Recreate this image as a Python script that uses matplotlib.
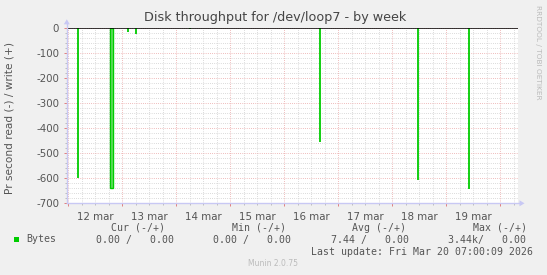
import matplotlib
matplotlib.use("Agg")
import matplotlib.pyplot as plt
from matplotlib.patches import Rectangle
import numpy as np

# ---- data ----
day_labels = ["12 mar", "13 mar", "14 mar", "15 mar", "16 mar", "17 mar", "18 mar", "19 mar"]
# spike positions in days since 12 mar 00:00 and read values (negative = read)
spike_day = [0.194, 0.805, 1.11, 1.258, 2.257, 4.66, 6.48, 7.42]
spike_read = [-597, -638, -13, -24, -3, -455, -605, -643]
yticks = [0, -100, -200, -300, -400, -500, -600, -700]

legend_cols = ["Cur (-/+)", "Min (-/+)", "Avg (-/+)", "Max (-/+)"]
legend_vals = ["0.00 /   0.00", "0.00 /   0.00", "7.44 /   0.00", "3.44k/   0.00"]
series_name = "Bytes"
title = "Disk throughput for /dev/loop7 - by week"
ylabel = "Pr second read (-) / write (+)"
last_update = "Last update: Fri Mar 20 07:00:09 2026"

W, H = 547, 275
fig = plt.figure(figsize=(W / 100, H / 100), dpi=100, facecolor="#F0F0F0")

px_left, px_right, px_top, px_bot = 66.8, 517.5, 28.3, 203.3
ax = fig.add_axes([px_left / W, 1 - px_bot / H, (px_right - px_left) / W, (px_bot - px_top) / H])
ax.set_facecolor("white")
ax.set_xlim(-0.022, 8.316)
ax.set_ylim(-700, 0)

dot = (0, (0.72, 1.44))
minor_c = "#D0D0D0"
major_c = "#EBA8A8"
# grid
for v in np.arange(-700, 1, 20):
    if v % 100 != 0:
        ax.axhline(v, color=minor_c, lw=0.72, ls=dot, zorder=1)
for v in yticks:
    ax.axhline(v, color=major_c, lw=0.72, ls=dot, zorder=1.1)
for d in np.arange(0, 8.5, 0.25):
    if abs(d - round(d)) > 1e-6:
        ax.axvline(d, color=minor_c, lw=0.72, ls=dot, zorder=1)
for d in range(0, 9):
    ax.axvline(d, color=major_c, lw=0.72, ls=dot, zorder=1.1)

# data
ax.vlines(spike_day, spike_read, 0, color="#00CC00", lw=1.3, zorder=3)
ax.bar([spike_day[1]], [spike_read[1]], width=0.06, color="#66DD66",
       edgecolor="#00CC00", lw=1.0, zorder=3)
ax.axhline(0, color="black", lw=1.1, zorder=4)

# axes styling
for s in ax.spines.values():
    s.set_visible(False)
ax.set_yticks(yticks)
ax.set_yticklabels([str(v) for v in yticks], fontsize=7.4, color="#555555")
ax.set_xticks(range(0, 9))
ax.set_xticklabels([""] * 9)
ax.set_xticks(np.arange(0, 8.4, 0.25), minor=True)
ax.set_yticks(np.arange(-700, 1, 20), minor=True)
ax.tick_params(axis="both", which="major", length=2.5, width=0.7, color="#E08080", pad=3)
ax.tick_params(axis="both", which="minor", length=1.5, width=0.7, color="#BBBBBB")
for i, lab in enumerate(day_labels):
    ax.text(i + 0.5, -0.05, lab, transform=ax.get_xaxis_transform(), ha="center", va="top",
            fontsize=7.4, color="#555555")

# axis lines with arrows (figure overlay)
ov = fig.add_axes([0, 0, 1, 1], facecolor="none")
ov.set_xlim(0, W)
ov.set_ylim(H, 0)
ov.axis("off")
axc = "#C8C8F4"
ov.plot([px_left, px_right + 2], [px_bot, px_bot], color=axc, lw=1.0)
ov.plot([px_left, px_left], [px_bot, px_top - 4], color=axc, lw=1.0)
ov.add_patch(plt.Polygon([[px_right + 2, px_bot - 3], [px_right + 7, px_bot], [px_right + 2, px_bot + 3]],
                         closed=True, color=axc, lw=0))
ov.add_patch(plt.Polygon([[px_left - 3, px_top - 4], [px_left, px_top - 9], [px_left + 3, px_top - 4]],
                         closed=True, color=axc, lw=0))

ov.text(275, 18, title, ha="center", va="center", fontsize=9.2, color="#444444")
ov.text(10, 118, ylabel, ha="center", va="center", rotation=90, fontsize=7.6, color="#555555")
ov.text(538, 5, "RRDTOOL / TOBI OETIKER", ha="center", va="top", rotation=270,
        fontsize=5.3, color="#BBBBBB")

mono = "DejaVu Sans Mono"
fs = 7.1
col_x = [111, 231.7, 352.3, 472.7]
val_x = [95.7, 212.7, 331, 448.3]
for t, x in zip(legend_cols, col_x):
    ov.text(x, 228, t, ha="left", va="center", family=mono, fontsize=fs, color="#555555")
for t, x in zip(legend_vals, val_x):
    ov.text(x, 239.5, t, ha="left", va="center", family=mono, fontsize=fs, color="#555555")
ov.add_patch(Rectangle((14, 236.6), 5.4, 5.4, color="#00CC00", lw=0))
ov.text(26.7, 239.5, series_name, ha="left", va="center", family=mono, fontsize=fs, color="#555555")
ov.text(532.7, 251.7, last_update, ha="right", va="center", family=mono, fontsize=fs, color="#555555")
ov.text(273, 263.5, "Munin 2.0.75", ha="center", va="center", fontsize=5.5, color="#BBBBBB")

fig.savefig("out.png", dpi=100, facecolor=fig.get_facecolor())
